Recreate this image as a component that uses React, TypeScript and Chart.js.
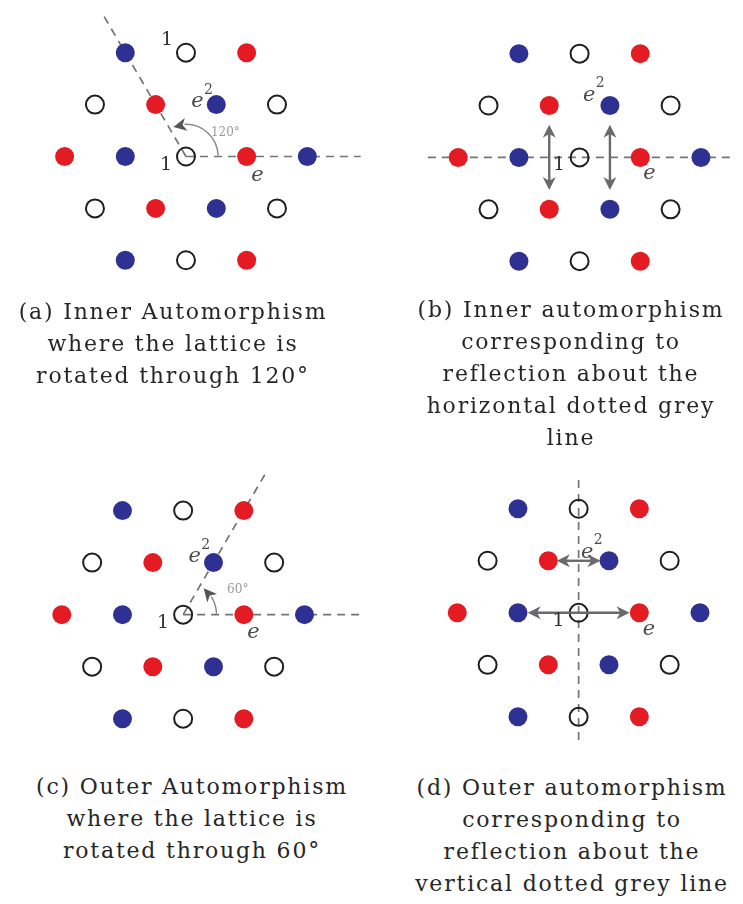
import React, { useEffect, useRef } from 'react';
import { Chart, registerables } from 'chart.js';

Chart.register(...registerables);

// ---------- Data (lattice coordinates: x in lattice units, y in rows) ----------
const redPoints = [
  { x: 1, y: 2 }, { x: -0.5, y: 1 }, { x: -2, y: 0 }, { x: 1, y: 0 }, { x: -0.5, y: -1 }, { x: 1, y: -2 },
];
const bluePoints = [
  { x: -1, y: 2 }, { x: 0.5, y: 1 }, { x: -1, y: 0 }, { x: 2, y: 0 }, { x: 0.5, y: -1 }, { x: -1, y: -2 },
];
const openPoints = [
  { x: 0, y: 2 }, { x: -1.5, y: 1 }, { x: 1.5, y: 1 }, { x: 0, y: 0 }, { x: -1.5, y: -1 }, { x: 1.5, y: -1 }, { x: 0, y: -2 },
];

// guide (dashed grey) lines per panel
const guidesA = [
  [{ x: 0, y: 0 }, { x: -1.35, y: 2.7 }],
  [{ x: 0, y: 0 }, { x: 2.88, y: 0 }],
];
const guidesB = [[{ x: -2.5, y: 0 }, { x: 2.53, y: 0 }]];
const guidesC = [
  [{ x: 0, y: 0 }, { x: 1.35, y: 2.7 }],
  [{ x: 0, y: 0 }, { x: 2.9, y: 0 }],
];
const guidesD = [[{ x: 0, y: 2.55 }, { x: 0, y: -2.5 }]];

// double-headed arrows
const arrowsB = [
  { x1: -0.5, y1: 0.63, x2: -0.5, y2: -0.63 },
  { x1: 0.5, y1: 0.63, x2: 0.5, y2: -0.63 },
];
const arrowsD = [
  { x1: -0.36, y1: 1, x2: 0.36, y2: 1 },
  { x1: -0.84, y1: 0, x2: 0.84, y2: 0 },
];

// rotation arcs (radius in lattice units, angles in degrees)
const arcA = { r: 0.53, from: 2, tip: 113 };
const arcC = { r: 0.55, from: 2, tip: 52 };

// labels
const labelsA = [
  { t: '1', x: -0.31, y: 2.25 },
  { t: '1', x: -0.33, y: -0.16 },
  { t: 'e', sup: '2', x: 0.19, y: 1.05 },
  { t: 'e', x: 1.18, y: -0.37 },
  { t: '120°', x: 0.65, y: 0.46, small: true },
];
const labelsB = [
  { t: '1', x: -0.34, y: -0.14 },
  { t: 'e', sup: '2', x: 0.16, y: 1.2 },
  { t: 'e', x: 1.15, y: -0.32 },
];
const labelsC = [
  { t: 'e', sup: '2', x: 0.19, y: 1.11 },
  { t: '1', x: -0.33, y: -0.16 },
  { t: 'e', x: 1.16, y: -0.34 },
  { t: '60°', x: 0.9, y: 0.48, small: true },
];
const labelsD = [
  { t: 'e', sup: '2', x: 0.14, y: 1.16 },
  { t: '1', x: -0.33, y: -0.16 },
  { t: 'e', x: 1.16, y: -0.32 },
];

const captionA = ['(a) Inner Automorphism', 'where the lattice is', 'rotated through 120°'];
const captionB = ['(b) Inner automorphism', 'corresponding to', 'reflection about the', 'horizontal dotted grey', 'line'];
const captionC = ['(c) Outer Automorphism', 'where the lattice is', 'rotated through 60°'];
const captionD = ['(d) Outer automorphism', 'corresponding to', 'reflection about the', 'vertical dotted grey line'];

// ---------- Layout ----------
const UNIT_PX = 64.5;
const ROW_PX = 56;
const RED = '#e41b22';
const BLUE = '#2e3192';
const GREY = '#747474';
const ARROW = '#6a6a6a';

type Pt = { x: number; y: number };

function drawHead(ctx: CanvasRenderingContext2D, tx: number, ty: number, dx: number, dy: number, len: number, hw: number) {
  const nx = -dy, ny = dx;
  ctx.beginPath();
  ctx.moveTo(tx, ty);
  ctx.lineTo(tx - len * dx + hw * nx, ty - len * dy + hw * ny);
  ctx.lineTo(tx - 0.72 * len * dx, ty - 0.72 * len * dy);
  ctx.lineTo(tx - len * dx - hw * nx, ty - len * dy - hw * ny);
  ctx.closePath();
  ctx.fill();
}

function Panel(props: {
  box: { left: number; top: number; width: number; height: number };
  center: { x: number; y: number };
  guides: Pt[][];
  arrows?: { x1: number; y1: number; x2: number; y2: number }[];
  arc?: { r: number; from: number; tip: number };
  labels: { t: string; x: number; y: number; sup?: string; small?: boolean }[];
}) {
  const ref = useRef<HTMLCanvasElement>(null);
  useEffect(() => {
    const { box, center, guides, arrows, arc, labels } = props;
    const xmin = -(center.x - box.left) / UNIT_PX;
    const xmax = (box.left + box.width - center.x) / UNIT_PX;
    const ymax = (center.y - box.top) / ROW_PX;
    const ymin = -(box.top + box.height - center.y) / ROW_PX;

    const overlay = {
      id: 'latticeOverlay',
      afterDatasetsDraw(chart: any) {
        const ctx: CanvasRenderingContext2D = chart.ctx;
        const xs = chart.scales.x, ys = chart.scales.y;
        const px = (v: number) => xs.getPixelForValue(v);
        const py = (v: number) => ys.getPixelForValue(v);
        ctx.save();
        // arrows
        (arrows || []).forEach((a) => {
          const x1 = px(a.x1), y1 = py(a.y1), x2 = px(a.x2), y2 = py(a.y2);
          const L = Math.hypot(x2 - x1, y2 - y1);
          const dx = (x2 - x1) / L, dy = (y2 - y1) / L;
          ctx.strokeStyle = ARROW;
          ctx.fillStyle = ARROW;
          ctx.lineWidth = 2.4;
          ctx.beginPath();
          ctx.moveTo(x1 + dx * 8, y1 + dy * 8);
          ctx.lineTo(x2 - dx * 8, y2 - dy * 8);
          ctx.stroke();
          drawHead(ctx, x2, y2, dx, dy, 13, 6.5);
          drawHead(ctx, x1, y1, -dx, -dy, 13, 6.5);
        });
        // rotation arc
        if (arc) {
          const cx = px(0), cy = py(0);
          const r = px(arc.r) - px(0);
          const headLen = 13;
          const tipRad = (arc.tip * Math.PI) / 180;
          const baseRad = tipRad - headLen / r;
          ctx.strokeStyle = '#8a8a8a';
          ctx.lineWidth = 1.5;
          ctx.beginPath();
          ctx.arc(cx, cy, r, -(arc.from * Math.PI) / 180, -(baseRad + 0.05), true);
          ctx.stroke();
          const bx = cx + r * Math.cos(baseRad), by = cy - r * Math.sin(baseRad);
          const tx = cx + r * Math.cos(tipRad), ty = cy - r * Math.sin(tipRad);
          const L = Math.hypot(tx - bx, ty - by);
          ctx.fillStyle = '#555555';
          drawHead(ctx, tx, ty, (tx - bx) / L, (ty - by) / L, headLen, 6.5);
        }
        // labels
        ctx.textAlign = 'center';
        ctx.textBaseline = 'middle';
        labels.forEach((l) => {
          const x = px(l.x), y = py(l.y);
          if (l.small) {
            ctx.font = '12px "DejaVu Serif"';
            ctx.fillStyle = '#9a9a9a';
            ctx.fillText(l.t, x, y);
            return;
          }
          if (l.t === 'e') {
            ctx.font = 'italic 21px "DejaVu Serif"';
            ctx.fillStyle = '#4a4a4a';
          } else {
            ctx.font = '19px "DejaVu Serif"';
            ctx.fillStyle = '#333333';
          }
          ctx.fillText(l.t, x, y);
          if (l.sup) {
            ctx.font = '14px "DejaVu Serif"';
            ctx.fillText(l.sup, x + 11, y - 12);
          }
        });
        ctx.restore();
      },
    };

    const guideSets = guides.map((g) => ({
      data: g,
      showLine: true,
      borderColor: GREY,
      borderWidth: 1.7,
      borderDash: [8, 6],
      pointRadius: 0,
      clip: false,
      order: 10,
    }));

    const chart = new Chart(ref.current as HTMLCanvasElement, {
      type: 'scatter',
      data: {
        datasets: [
          ...guideSets,
          {
            data: openPoints,
            pointRadius: 9,
            pointBorderWidth: 2,
            borderColor: '#1e1e1e',
            backgroundColor: 'rgba(255,255,255,0)',
            order: 1,
          },
          { data: redPoints, pointRadius: 9.5, borderWidth: 0, borderColor: RED, backgroundColor: RED, order: 1 },
          { data: bluePoints, pointRadius: 9.5, borderWidth: 0, borderColor: BLUE, backgroundColor: BLUE, order: 1 },
        ] as any,
      },
      options: {
        animation: false,
        responsive: false,
        maintainAspectRatio: false,
        events: [],
        layout: { padding: 0 },
        plugins: { legend: { display: false }, tooltip: { enabled: false } },
        scales: {
          x: { type: 'linear', display: false, min: xmin, max: xmax },
          y: { type: 'linear', display: false, min: ymin, max: ymax },
        },
      },
      plugins: [overlay],
    });
    return () => chart.destroy();
  }, []);
  const { box } = props;
  return (
    <canvas
      ref={ref}
      width={box.width}
      height={box.height}
      style={{ position: 'absolute', left: box.left, top: box.top, width: box.width, height: box.height }}
    />
  );
}

function Caption(props: { lines: string[]; centerX: number; top: number }) {
  const w = 370;
  return (
    <div
      style={{
        position: 'absolute',
        left: props.centerX - w / 2,
        top: props.top,
        width: w,
        textAlign: 'center',
        fontFamily: '"DejaVu Serif", serif',
        fontSize: 22,
        lineHeight: '32px',
        letterSpacing: '1.8px',
        color: '#262626',
        whiteSpace: 'nowrap',
      }}
    >
      {props.lines.map((l, i) => (
        <div key={i}>{l}</div>
      ))}
    </div>
  );
}

export default function App() {
  return (
    <div style={{ position: 'absolute', left: 0, top: 0, width: 743, height: 904, background: '#fff', overflow: 'hidden' }}>
      <Panel box={{ left: 0, top: 0, width: 371, height: 300 }} center={{ x: 186, y: 157 }} guides={guidesA} arc={arcA} labels={labelsA} />
      <Panel box={{ left: 371, top: 0, width: 372, height: 300 }} center={{ x: 581, y: 158 }} guides={guidesB} arrows={arrowsB} labels={labelsB} />
      <Panel box={{ left: 0, top: 455, width: 371, height: 310 }} center={{ x: 183, y: 615 }} guides={guidesC} arc={arcC} labels={labelsC} />
      <Panel box={{ left: 371, top: 455, width: 372, height: 310 }} center={{ x: 580, y: 613 }} guides={guidesD} arrows={arrowsD} labels={labelsD} />
      <Caption lines={captionA} centerX={173} top={296} />
      <Caption lines={captionB} centerX={571} top={294} />
      <Caption lines={captionC} centerX={192} top={771} />
      <Caption lines={captionD} centerX={572} top={772} />
    </div>
  );
}
